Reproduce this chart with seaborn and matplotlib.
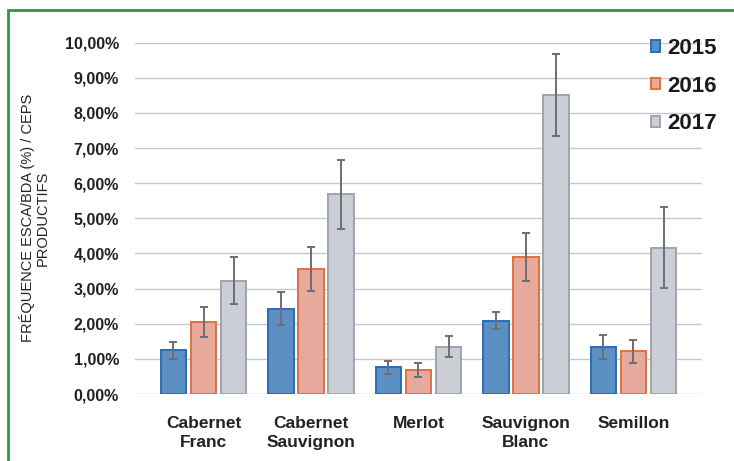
import numpy as np
import pandas as pd
import matplotlib
matplotlib.use("Agg")
from matplotlib import pyplot as plt
from matplotlib.patches import Rectangle
import seaborn as sns

sns.set_style('white')
plt.rcParams['font.family'] = ['Liberation Sans', 'DejaVu Sans']

CEPAGES = ["Cabernet\nFranc", "Cabernet\nSauvignon", "Merlot", "Sauvignon\nBlanc", "Semillon"]
YEARS = ["2015", "2016", "2017"]
freq_2015 = [1.25, 2.42, 0.76, 2.09, 1.34]
freq_2016 = [2.05, 3.55, 0.68, 3.90, 1.22]
freq_2017 = [3.23, 5.68, 1.34, 8.52, 4.17]
err_2015 = [0.24, 0.47, 0.19, 0.25, 0.33]
err_2016 = [0.43, 0.63, 0.21, 0.67, 0.33]
err_2017 = [0.67, 0.98, 0.30, 1.17, 1.14]
YTICKS = ["0,00%", "1,00%", "2,00%", "3,00%", "4,00%", "5,00%",
          "6,00%", "7,00%", "8,00%", "9,00%", "10,00%"]

FILL = ["#4b8fd3", "#f2a190", "#c9cdd6"]
EDGE = ["#2a6cb8", "#e2703f", "#9ea4ae"]

df = pd.DataFrame({
    "cepage": CEPAGES * 3,
    "year": np.repeat(YEARS, len(CEPAGES)),
    "freq": freq_2015 + freq_2016 + freq_2017,
})
errs = [err_2015, err_2016, err_2017]

fig = plt.figure(figsize=(7.34, 4.61), dpi=100)
ax = fig.add_axes([135/734, 1-394/461, 567/734, (394-42.7)/461])

sns.barplot(data=df, x="cepage", y="freq", hue="year", palette=FILL,
            width=0.84, gap=0.16, errorbar=None, ax=ax, zorder=3)

bar_conts = list(ax.containers)
for i, cont in enumerate(bar_conts):
    xs, ys = [], []
    for bar in cont:
        bar.set_edgecolor(EDGE[i])
        bar.set_linewidth(1.4)
        xs.append(bar.get_x() + bar.get_width()/2)
        ys.append(bar.get_height())
    ax.errorbar(xs, ys, yerr=errs[i], fmt='none', ecolor='#6b6e73',
                elinewidth=1.4, capsize=3, capthick=1.4, zorder=4, clip_on=False)

ax.set_ylim(0, 10)
ax.set_yticks(range(11))
ax.set_yticklabels(YTICKS, fontsize=11.5, fontweight='bold', color='#222222')
ax.tick_params(axis='y', length=0, pad=11.5)
ax.tick_params(axis='x', length=0, pad=16, labelsize=12.5)
for lab in ax.get_xticklabels():
    lab.set_fontweight('bold')
    lab.set_color('#222222')
    lab.set_linespacing(1.35)
ax.grid(axis='y', color='#c6c8cc', lw=1, zorder=0)
ax.set_axisbelow(True)
sns.despine(ax=ax, left=True, bottom=True)
ax.set_xlabel("")
ax.set_ylabel("FRÉQUENCE ESCA/BDA (%) / CEPS\nPRODUCTIFS", fontsize=10.5,
              color='#222222', linespacing=1.05)
ax.yaxis.set_label_coords(-0.150, 0.5)

handles = [c[0] for c in bar_conts]
ax.get_legend().remove()
leg = fig.legend(handles, YEARS, loc='upper left', bbox_to_anchor=(631/734, 1-18/461),
                 frameon=False, handlelength=0.42, handleheight=0.42,
                 handletextpad=0.3, labelspacing=0.75,
                 prop={'weight': 'bold', 'size': 16})
for t in leg.get_texts():
    t.set_color('#1a1a1a')

fig.add_artist(Rectangle((8/734, -0.2), 1.2, 1.2-10/461, transform=fig.transFigure,
                         fill=False, edgecolor='#2e9448', lw=2))

fig.savefig("out.png", dpi=100)
